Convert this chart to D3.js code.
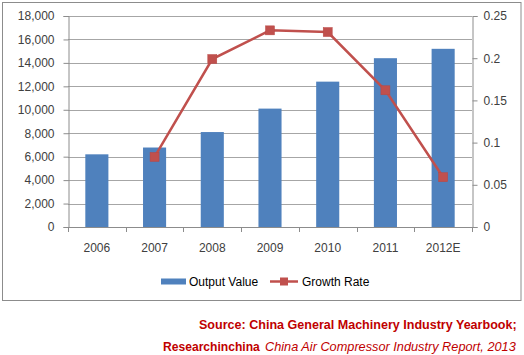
<!DOCTYPE html>
<html><head><meta charset="utf-8">
<script src="https://cdn.jsdelivr.net/npm/d3@7"></script>
<style>html,body{margin:0;padding:0;background:#fff;}svg{display:block;}</style>
</head><body>
<svg id="c" width="524" height="355"></svg>
<script>
const categories = ["2006","2007","2008","2009","2010","2011","2012E"];
const outputValue = [6200, 6780, 8100, 10100, 12400, 14400, 15200];
const growthCats = ["2007","2008","2009","2010","2011","2012E"];
const growthRate = [0.083, 0.199, 0.233, 0.231, 0.162, 0.059];
const leftTicks = [0,2000,4000,6000,8000,10000,12000,14000,16000,18000];
const rightTicks = [0,0.05,0.1,0.15,0.2,0.25];
const seriesNames = ["Output Value","Growth Rate"];

const svg = d3.select("#c");
const font = "'Liberation Sans', Arial, sans-serif";
const L = 68, R = 472, T = 16, B = 227;

svg.append("rect").attr("x",2.5).attr("y",2.5).attr("width",518.5).attr("height",298)
  .attr("fill","#fff").attr("stroke","#8c8c8c").attr("stroke-width",1);

const x = d3.scaleBand().domain(categories).range([L,R]).paddingInner(0.6).paddingOuter(0.3);
const y = d3.scaleLinear().domain([0,18000]).range([B,T]);
const y2 = d3.scaleLinear().domain([0,0.25]).range([B,T]);

// gridlines
svg.append("g").selectAll("line").data(leftTicks.slice(1)).join("line")
  .attr("x1",L).attr("x2",R).attr("y1",d=>Math.round(y(d))+0.5).attr("y2",d=>Math.round(y(d))+0.5)
  .attr("stroke","#a6a6a6").attr("stroke-width",1);

// left axis
const ga = svg.append("g").attr("transform",`translate(${L+0.5},0)`)
  .call(d3.axisLeft(y).tickValues(leftTicks).tickFormat(d3.format(",")).tickSize(5).tickPadding(9));
ga.select(".domain").attr("stroke","#8c8c8c");
ga.selectAll(".tick line").attr("stroke","#8c8c8c");
ga.selectAll("text").attr("font-family",font).attr("font-size","12px").attr("fill","#404040");

// right axis
const gr = svg.append("g").attr("transform",`translate(${R+0.5},0)`)
  .call(d3.axisRight(y2).tickValues(rightTicks).tickFormat(d=>String(d)).tickSize(5).tickPadding(6));
gr.select(".domain").attr("stroke","#8c8c8c");
gr.selectAll(".tick line").attr("stroke","#8c8c8c");
gr.selectAll("text").attr("font-family",font).attr("font-size","12px").attr("fill","#404040");

// bars
svg.append("g").selectAll("rect").data(categories).join("rect")
  .attr("x",(d)=>x(d)).attr("width",x.bandwidth())
  .attr("y",(d,i)=>y(outputValue[i])).attr("height",(d,i)=>B-y(outputValue[i]))
  .attr("fill","#4f81bd");

// bottom axis
svg.append("line").attr("x1",L).attr("x2",R+5).attr("y1",B+0.5).attr("y2",B+0.5).attr("stroke","#8c8c8c");
svg.append("g").selectAll("line").data(d3.range(categories.length+1)).join("line")
  .attr("x1",i=>Math.round(L+i*x.step())+0.5).attr("x2",i=>Math.round(L+i*x.step())+0.5)
  .attr("y1",B).attr("y2",B+5).attr("stroke","#8c8c8c");
svg.append("g").selectAll("text").data(categories).join("text")
  .attr("x",d=>x(d)+x.bandwidth()/2).attr("y",252)
  .attr("text-anchor","middle").attr("font-family",font).attr("font-size","12px").attr("fill","#404040")
  .text(d=>d);

// line
const line = d3.line().x((d,i)=>x(growthCats[i])+x.bandwidth()/2).y(d=>y2(d));
svg.append("path").datum(growthRate).attr("d",line).attr("fill","none")
  .attr("stroke","#c0504d").attr("stroke-width",2.5);
svg.append("g").selectAll("rect").data(growthRate).join("rect")
  .attr("x",(d,i)=>x(growthCats[i])+x.bandwidth()/2-4.5).attr("y",d=>y2(d)-4.5)
  .attr("width",9).attr("height",9).attr("fill","#c0504d").attr("stroke","#b84744").attr("stroke-width",0.5);

// legend
const lg = svg.append("g");
lg.append("rect").attr("x",161).attr("y",278.5).attr("width",25).attr("height",6).attr("fill","#4f81bd");
lg.append("text").attr("x",189).attr("y",286).attr("font-family",font).attr("font-size","12px").attr("fill","#000").text(seriesNames[0]);
lg.append("line").attr("x1",270).attr("x2",298).attr("y1",281.5).attr("y2",281.5).attr("stroke","#c0504d").attr("stroke-width",2.5);
lg.append("rect").attr("x",280).attr("y",277.5).attr("width",8).attr("height",8).attr("fill","#c0504d");
lg.append("text").attr("x",302).attr("y",286).attr("font-family",font).attr("font-size","12px").attr("fill","#000").text(seriesNames[1]);

// source (condensed horizontally via transform to fit reference widths)
const red = "#c00000";
function fitText(txt, x0, yb, w, opts){
  const g = svg.append("g");
  const t = g.append("text").attr("x",0).attr("y",0).attr("font-family",font).attr("font-size","13px")
    .attr("fill",red).text(txt);
  if (opts.bold) t.attr("font-weight","bold");
  if (opts.italic) t.attr("font-style","italic");
  const nat = t.node().getComputedTextLength();
  g.attr("transform",`translate(${x0},${yb}) scale(${w/nat},1)`);
}
fitText("Source: China General Machinery Industry Yearbook;", 199, 328.5, 318, {bold:true});
fitText("Researchinchina", 163, 351, 97, {bold:true});
fitText("China Air Compressor Industry Report, 2013", 265, 351, 251, {italic:true});
</script>
</body></html>
